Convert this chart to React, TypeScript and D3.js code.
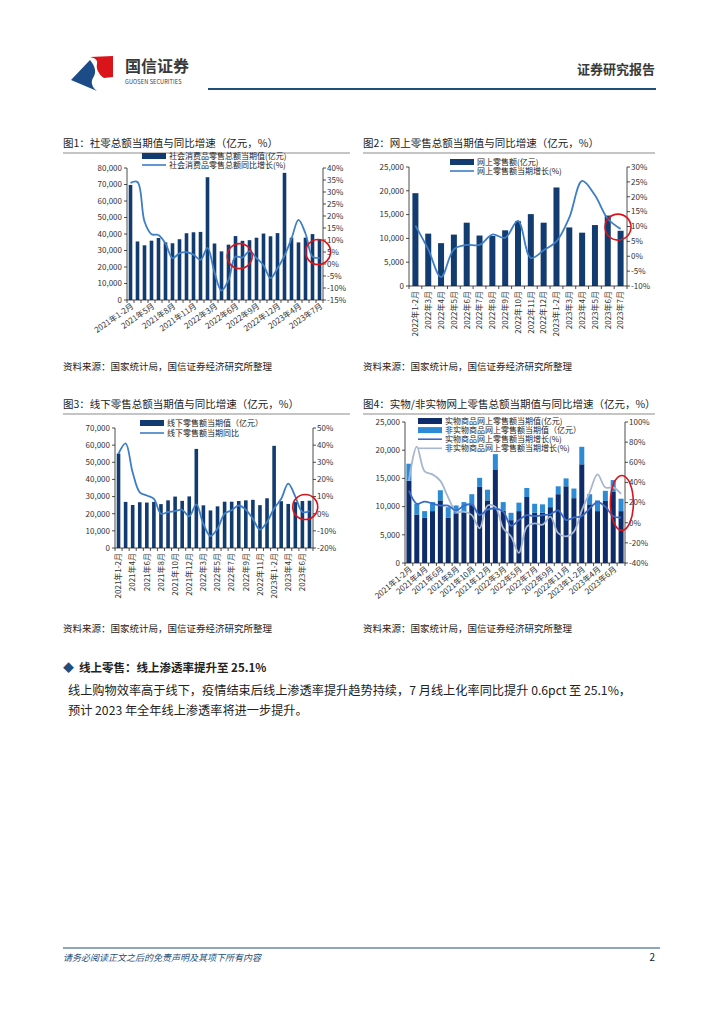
import React from "react";
import * as d3 from "d3";

const FONT = '"Noto Sans CJK SC","Noto Sans",sans-serif';

// ---------- data ----------
const MONTHS = ["2021年1-2月","2021年3月","2021年4月","2021年5月","2021年6月","2021年7月","2021年8月","2021年9月","2021年10月","2021年11月","2021年12月","2022年1-2月","2022年3月","2022年4月","2022年5月","2022年6月","2022年7月","2022年8月","2022年9月","2022年10月","2022年11月","2022年12月","2023年1-2月","2023年3月","2023年4月","2023年5月","2023年6月","2023年7月"];
const ONLINE_MONTHS = ["2022年1-2月","2022年3月","2022年4月","2022年5月","2022年6月","2022年7月","2022年8月","2022年9月","2022年10月","2022年11月","2022年12月","2023年1-2月","2023年3月","2023年4月","2023年5月","2023年6月","2023年7月"];

// 图1 社零总额（亿元）与同比（%）
const TOTAL_RETAIL = [69737,35484,33153,35945,37586,34925,34395,36833,40454,41043,41269,74426,34233,29483,33547,38742,35870,36258,37745,40271,38615,40542,77067,37715,34910,37803,39951,36761];
const TOTAL_RETAIL_YOY = [33.8,34.2,17.7,12.4,12.1,8.5,2.5,4.4,4.9,3.9,1.7,6.7,-3.5,-11.1,-6.7,3.1,2.7,5.4,2.5,-0.5,-5.9,-1.8,3.5,10.6,18.4,12.7,3.1,2.5];

// 图2 网上零售额（亿元）与当期增长（%）
const ONLINE_RETAIL = [19500,11000,9000,10800,13300,10600,10500,11700,13600,15100,13300,20700,12300,11200,12800,14800,11600];
const ONLINE_RETAIL_YOY = [10.3,2.3,-7,2.3,3.8,3.8,7.3,6.2,11.9,-0.6,2,5,13,25.3,20.5,12.6,9.2];

// 图3 线下零售额（亿元）与同比（%）
const OFFLINE_RETAIL = [55100,26900,25100,26700,26500,26900,25600,27800,30000,27500,30100,57800,24900,21900,24300,27000,27000,27400,27800,28100,25000,29000,59600,27300,25700,26800,27400,27600];
const OFFLINE_RETAIL_YOY = [35,41,24,12.5,10.6,8.7,0,1,1.5,2.3,-1.5,5.4,-6,-13,-8.7,0,2,4.8,2.3,-3,-9.3,-4.8,3,8.7,17.5,10,1,1.5];

// 图4 实物 / 非实物网上零售额（亿元）与当期增长（%）
const PHYSICAL_ONLINE = [14600,8600,8000,9200,11100,8000,8800,9000,10400,13500,11100,16600,9300,7600,9200,11700,8900,8900,9900,12200,13600,11500,17500,10400,9200,11000,12600,9200];
const NONPHYSICAL_ONLINE = [3000,1900,1200,1600,1800,1900,1400,1800,1800,1600,1900,2700,1500,1300,1500,1600,1600,1500,1700,1400,1400,1700,3100,1800,1900,1800,2100,2200];
const PHYSICAL_YOY = [31.8,18.8,21,19,17,17,12,17,18,7.5,13,14,11,-3,2.6,7.5,6.5,7.5,8.4,12.3,2.6,5.2,6.5,14,20.5,16,6.5,5.2];
const NONPHYSICAL_YOY = [41.5,75.6,51,48,41.5,25,11,11,7.5,-5.5,17,15.6,-5.5,-13.6,-30,-4,-0.6,-2,6,-10.4,-13.6,-8.8,12.3,30,48,35,35,28.6];

// ---------- colors ----------
const NAVY = "#123B6F";
const LINE_BLUE = "#3D7EC6";
const DARK_BAR = "#0E2C69";
const LIGHT_BAR = "#2D8BD6";
const PHYS_LINE = "#3A6BC8";
const NONPHYS_LINE = "#A8B7D0";
const RED = "#D9141B";

type BarSeries = { values: number[]; color: string };
type LineSeries = { values: number[]; color: string; width: number };
type LegendItem = { kind: "bar" | "line"; color: string; label: string; width?: number };
type Mark = { idx: number; value: number; rx: number; ry: number };

interface ChartProps {
  cats: string[];
  x0: number; x1: number; yTop: number; yBot: number;
  left: { min: number; max: number; step: number };
  right: { min: number; max: number; step: number };
  bars: BarSeries[];
  barW: number;
  lines: LineSeries[];
  labelEvery: number;
  labelRot: number;
  legend: LegendItem[];
  legendX: number; legendY: number; legendGap: number;
  marks: Mark[];
}

function DualChart(p: ChartProps) {
  const x = d3.scaleBand<string>().domain(p.cats).range([p.x0, p.x1]).paddingInner(0).paddingOuter(0);
  const step = x.step();
  const cx = (i: number) => p.x0 + (i + 0.5) * step;
  const yL = d3.scaleLinear().domain([p.left.min, p.left.max]).range([p.yBot, p.yTop]);
  const yR = d3.scaleLinear().domain([p.right.min, p.right.max]).range([p.yBot, p.yTop]);
  const lTicks = d3.range(p.left.min, p.left.max + 1e-6, p.left.step);
  const rTicks = d3.range(p.right.min, p.right.max + 1e-6, p.right.step);
  const fmt = d3.format(",");
  const line = d3.line<number>().x((_, i) => cx(i)).y((d) => yR(d)).curve(d3.curveCatmullRom.alpha(0.5));

  const stacks: { x: number; y0: number; y1: number; color: string }[] = [];
  p.cats.forEach((c, i) => {
    let acc = 0;
    p.bars.forEach((s) => {
      const v = s.values[i];
      stacks.push({ x: (x(c) as number) + (step - p.barW) / 2, y0: yL(acc), y1: yL(acc + v), color: s.color });
      acc += v;
    });
  });

  return (
    <g fontFamily={FONT}>
      {/* bars */}
      {stacks.map((b, k) => (
        <rect key={k} x={b.x} y={b.y1} width={p.barW} height={b.y0 - b.y1} fill={b.color} />
      ))}
      {/* lines */}
      {p.lines.map((l, k) => (
        <path key={k} d={line(l.values) || ""} fill="none" stroke={l.color} strokeWidth={l.width} strokeLinejoin="round" />
      ))}
      {/* left axis */}
      <line x1={p.x0} x2={p.x0} y1={p.yTop} y2={p.yBot} stroke="#222" strokeWidth={0.8} />
      {lTicks.map((t) => (
        <g key={"l" + t}>
          <line x1={p.x0 - 3} x2={p.x0} y1={yL(t)} y2={yL(t)} stroke="#222" strokeWidth={0.8} />
          <text x={p.x0 - 5} y={yL(t)} dy="0.35em" textAnchor="end" fontSize={8} fill="#333">{fmt(t)}</text>
        </g>
      ))}
      {/* right axis */}
      <line x1={p.x1} x2={p.x1} y1={p.yTop} y2={p.yBot} stroke="#222" strokeWidth={0.8} />
      {rTicks.map((t) => (
        <g key={"r" + t}>
          <line x1={p.x1} x2={p.x1 + 3} y1={yR(t)} y2={yR(t)} stroke="#222" strokeWidth={0.8} />
          <text x={p.x1 + 4} y={yR(t)} dy="0.35em" textAnchor="start" fontSize={8} fill="#333">{`${t}%`}</text>
        </g>
      ))}
      {/* x axis */}
      <line x1={p.x0} x2={p.x1} y1={p.yBot} y2={p.yBot} stroke="#222" strokeWidth={0.8} />
      {d3.range(p.cats.length + 1).map((i) => (
        <line key={"xt" + i} x1={p.x0 + i * step} x2={p.x0 + i * step} y1={p.yBot} y2={p.yBot + 3} stroke="#222" strokeWidth={0.8} />
      ))}
      {p.cats.map((c, i) =>
        i % p.labelEvery === 0 ? (
          <text
            key={"xl" + i}
            transform={`translate(${cx(i) + (p.labelRot === -90 ? 0 : 2)},${p.yBot + 5}) rotate(${p.labelRot})`}
            textAnchor="end"
            dy="0.35em"
            fontSize={8}
            fill="#333"
          >
            {c}
          </text>
        ) : null
      )}
      {/* legend */}
      {p.legend.map((it, k) => {
        const y = p.legendY + k * p.legendGap;
        return (
          <g key={"lg" + k}>
            {it.kind === "bar" ? (
              <rect x={p.legendX} y={y - 3} width={24} height={6} fill={it.color} />
            ) : (
              <line x1={p.legendX} x2={p.legendX + 24} y1={y} y2={y} stroke={it.color} strokeWidth={it.width || 1.6} />
            )}
            <text x={p.legendX + 27} y={y} dy="0.35em" fontSize={8} fill="#222">{it.label}</text>
          </g>
        );
      })}
      {/* highlight marks */}
      {p.marks.map((m, k) => (
        <ellipse key={"m" + k} cx={cx(m.idx)} cy={yR(m.value)} rx={m.rx} ry={m.ry} fill="none" stroke={RED} strokeWidth={1.6} />
      ))}
    </g>
  );
}

function ChartFrame({ x, y, w, title, sourceY }: { x: number; y: number; w: number; title: string; sourceY: number }) {
  return (
    <g fontFamily={FONT}>
      <text x={x} y={y} fontSize={10.5} fill="#222">{title}</text>
      <line x1={x} x2={x + w} y1={y + 6} y2={y + 6} stroke="#8c8c8c" strokeWidth={1.2} />
      <text x={x} y={sourceY} fontSize={9.5} fill="#222">资料来源：国家统计局，国信证券经济研究所整理</text>
    </g>
  );
}

function Header() {
  return (
    <g fontFamily={FONT}>
      <path d="M71,80 L90,60 C95,66 97,72 93,78 C90,83 93,88 97,91 Z" fill="#1C4C87" />
      <path d="M90,57 L113,56 L113,77 L104,78 C98,74 96,68 97,64 C98,60 95,58 90,57 Z" fill="#D9141B" />
      <text x={125} y={72} fontSize={16} fontWeight="bold" fill="#3a3a3a">国信证券</text>
      <text x={125} y={84} fontSize={5.6} fill="#3a3a3a" letterSpacing={0.1}>GUOSEN SECURITIES</text>
      <text x={655} y={74} fontSize={13} fontWeight="bold" fill="#3a3a3a" textAnchor="end">证券研究报告</text>
      <line x1={208} x2={656} y1={89} y2={89} stroke="#1F4E79" strokeWidth={2} />
    </g>
  );
}

export default function App() {
  return (
    <svg width={724} height={1024} style={{ position: "absolute", left: 0, top: 0, background: "#fff" }} fontFamily={FONT}>
      <rect width={724} height={1024} fill="#fff" />
      <Header />

      {/* 图1 */}
      <ChartFrame x={63} y={147} w={287} title="图1：社零总额当期值与同比增速（亿元，%）" sourceY={370} />
      <DualChart
        cats={MONTHS}
        x0={127} x1={323} yTop={168} yBot={300}
        left={{ min: 0, max: 80000, step: 10000 }}
        right={{ min: -15, max: 40, step: 5 }}
        bars={[{ values: TOTAL_RETAIL, color: NAVY }]}
        barW={3.6}
        lines={[{ values: TOTAL_RETAIL_YOY, color: LINE_BLUE, width: 1.8 }]}
        labelEvery={3}
        labelRot={-35}
        legend={[
          { kind: "bar", color: NAVY, label: "社会消费品零售总额当期值(亿元)" },
          { kind: "line", color: LINE_BLUE, label: "社会消费品零售总额同比增长(%)" },
        ]}
        legendX={142} legendY={156} legendGap={9}
        marks={[
          { idx: 15.6, value: 3.3, rx: 12.5, ry: 12.5 },
          { idx: 26.8, value: 5, rx: 12.5, ry: 12.5 },
        ]}
      />

      {/* 图2 */}
      <ChartFrame x={363} y={147} w={292} title="图2：网上零售总额当期值与同比增速（亿元，%）" sourceY={370} />
      <DualChart
        cats={ONLINE_MONTHS}
        x0={409} x1={627} yTop={167} yBot={286}
        left={{ min: 0, max: 25000, step: 5000 }}
        right={{ min: -10, max: 30, step: 5 }}
        bars={[{ values: ONLINE_RETAIL, color: NAVY }]}
        barW={6}
        lines={[{ values: ONLINE_RETAIL_YOY, color: LINE_BLUE, width: 1.8 }]}
        labelEvery={1}
        labelRot={-90}
        legend={[
          { kind: "bar", color: NAVY, label: "网上零售额(亿元)" },
          { kind: "line", color: LINE_BLUE, label: "网上零售额当期增长(%)" },
        ]}
        legendX={450} legendY={162} legendGap={9}
        marks={[{ idx: 15.8, value: 9.8, rx: 13, ry: 13 }]}
      />

      {/* 图3 */}
      <ChartFrame x={63} y={408} w={287} title="图3：线下零售总额当期值与同比增速（亿元，%）" sourceY={632} />
      <DualChart
        cats={MONTHS}
        x0={115} x1={313} yTop={428} yBot={548}
        left={{ min: 0, max: 70000, step: 10000 }}
        right={{ min: -20, max: 50, step: 10 }}
        bars={[{ values: OFFLINE_RETAIL, color: NAVY }]}
        barW={3.6}
        lines={[{ values: OFFLINE_RETAIL_YOY, color: LINE_BLUE, width: 1.8 }]}
        labelEvery={2}
        labelRot={-90}
        legend={[
          { kind: "bar", color: NAVY, label: "线下零售额当期值（亿元）" },
          { kind: "line", color: LINE_BLUE, label: "线下零售额当期同比" },
        ]}
        legendX={140} legendY={423} legendGap={10}
        marks={[{ idx: 26.4, value: 3.9, rx: 12.5, ry: 12.5 }]}
      />

      {/* 图4 */}
      <ChartFrame x={363} y={408} w={292} title="图4：实物/非实物网上零售总额当期值与同比增速（亿元，%）" sourceY={632} />
      <DualChart
        cats={MONTHS}
        x0={405} x1={625} yTop={422} yBot={563}
        left={{ min: 0, max: 25000, step: 5000 }}
        right={{ min: -40, max: 100, step: 20 }}
        bars={[
          { values: PHYSICAL_ONLINE, color: DARK_BAR },
          { values: NONPHYSICAL_ONLINE, color: LIGHT_BAR },
        ]}
        barW={5}
        lines={[
          { values: NONPHYSICAL_YOY, color: NONPHYS_LINE, width: 1.8 },
          { values: PHYSICAL_YOY, color: PHYS_LINE, width: 1.8 },
        ]}
        labelEvery={2}
        labelRot={-40}
        legend={[
          { kind: "bar", color: DARK_BAR, label: "实物商品网上零售额当期值(亿元)" },
          { kind: "bar", color: LIGHT_BAR, label: "非实物商品网上零售额当期值（亿元）" },
          { kind: "line", color: PHYS_LINE, label: "实物商品网上零售额当期增长(%)" },
          { kind: "line", color: NONPHYS_LINE, label: "非实物商品网上零售额当期增长(%)" },
        ]}
        legendX={418} legendY={421} legendGap={9.1}
        marks={[{ idx: 27.1, value: 19.6, rx: 11.5, ry: 27.5 }]}
      />

      {/* 正文 */}
      <g fontFamily={FONT}>
        <text x={63} y={672} fontSize={11} fill="#1F4E79">◆</text>
        <text x={79} y={672} fontSize={11.5} fontWeight="bold" fill="#222">线上零售：线上渗透率提升至 25.1%</text>
        <text x={68} y={695} fontSize={12.2} fill="#222">线上购物效率高于线下，疫情结束后线上渗透率提升趋势持续，7 月线上化率同比提升 0.6pct 至 25.1%，</text>
        <text x={68} y={715} fontSize={12.2} fill="#222">预计 2023 年全年线上渗透率将进一步提升。</text>
      </g>

      {/* 页脚 */}
      <g fontFamily={FONT}>
        <line x1={63} x2={660} y1={948} y2={948} stroke="#1F4E79" strokeWidth={1} />
        <text x={63} y={961} fontSize={9} fontStyle="italic" fill="#1F4E79">请务必阅读正文之后的免责声明及其项下所有内容</text>
        <text x={655} y={961} fontSize={10} fill="#222" textAnchor="end">2</text>
      </g>
    </svg>
  );
}
